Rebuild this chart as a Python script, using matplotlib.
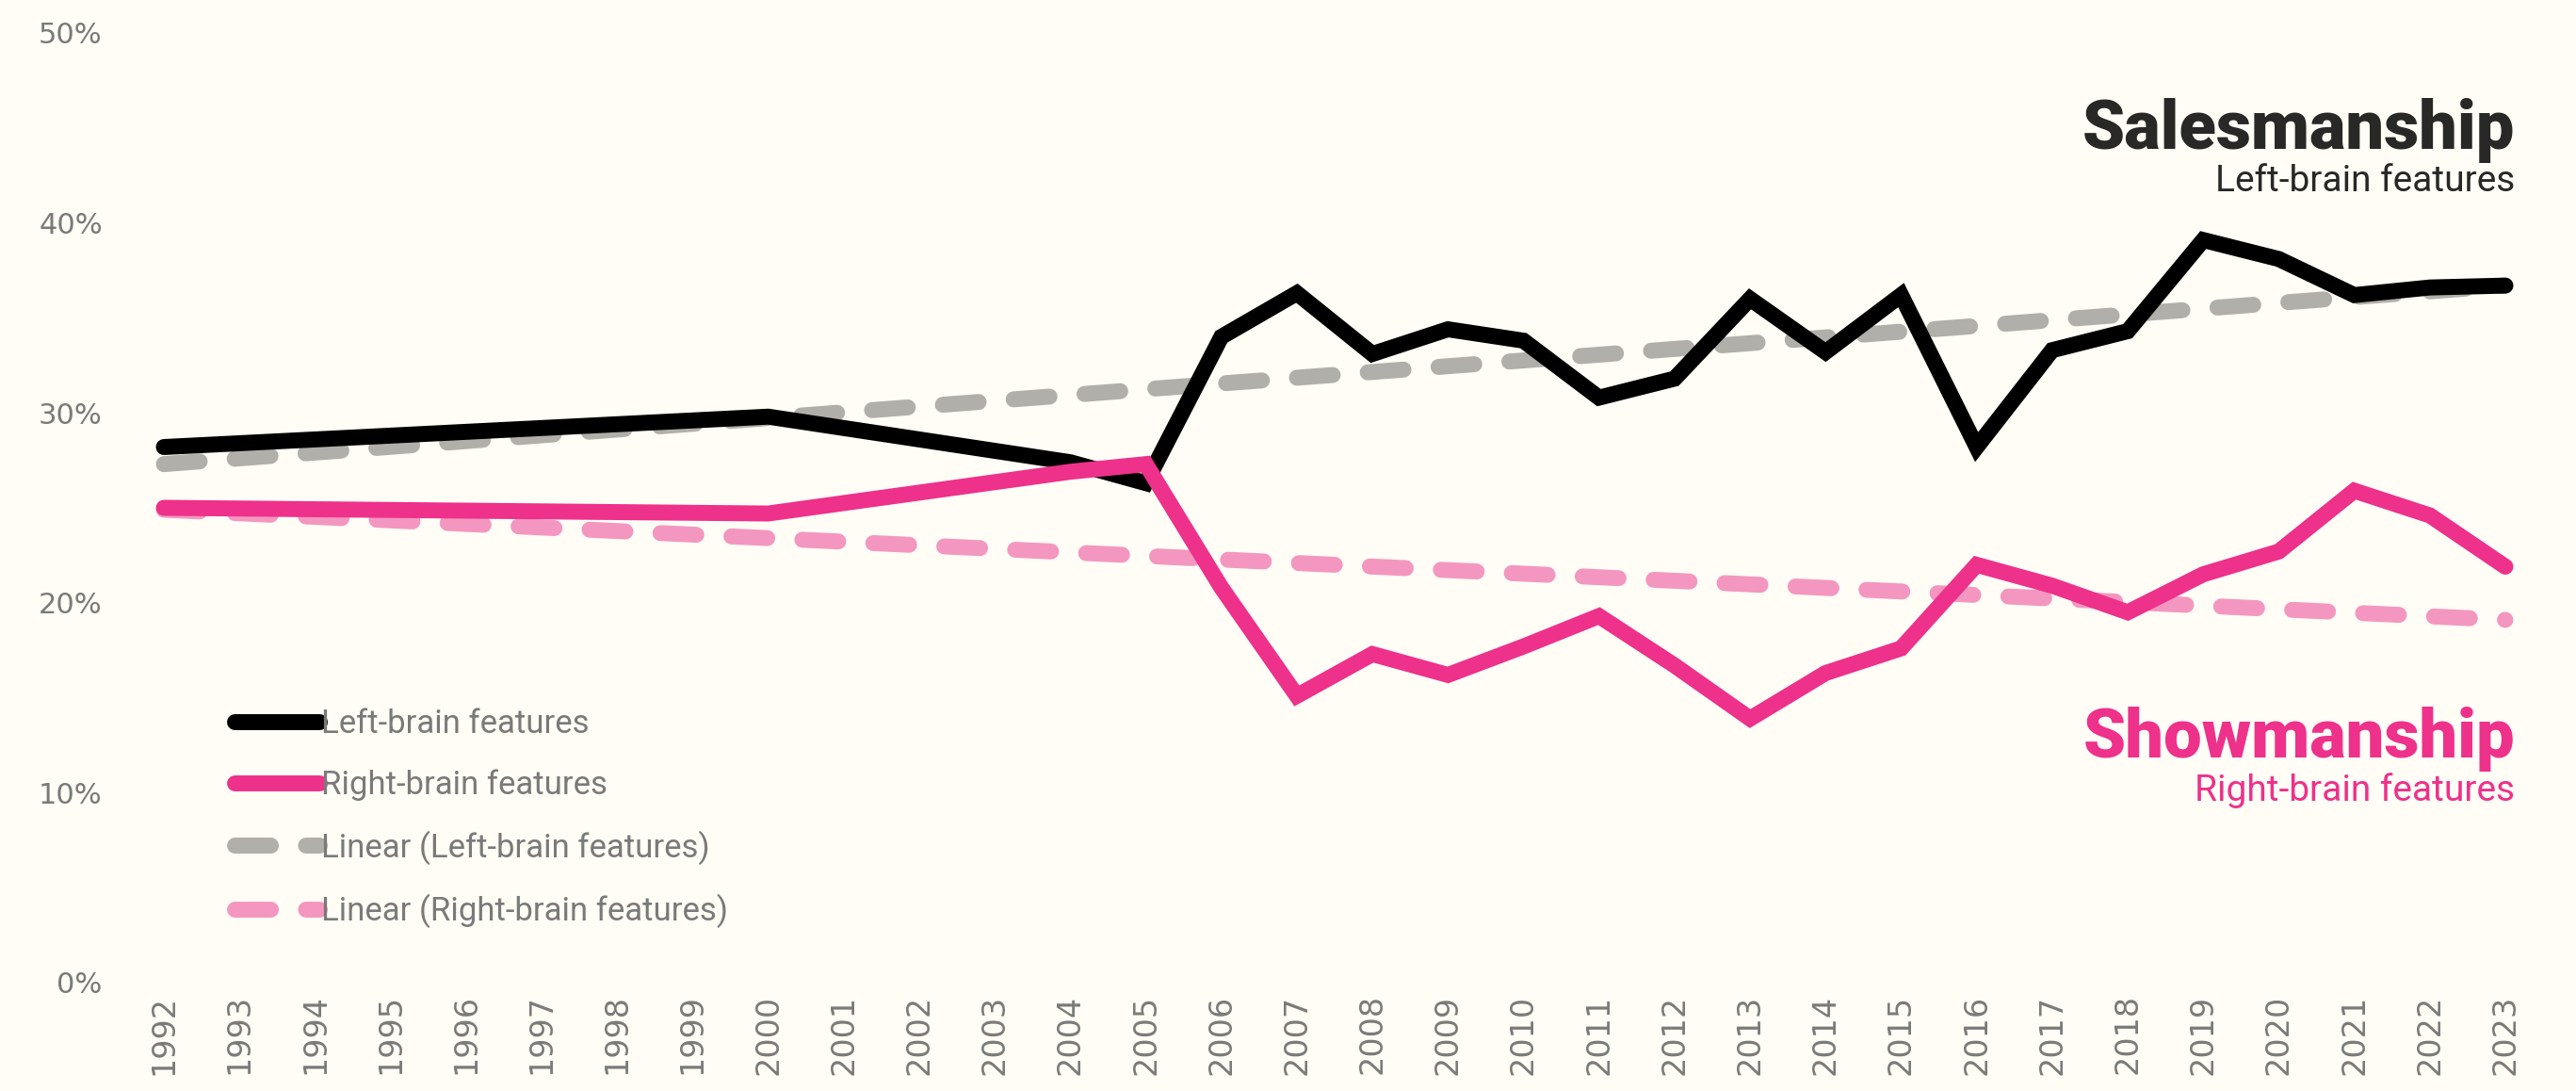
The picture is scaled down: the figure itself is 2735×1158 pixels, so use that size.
import matplotlib.pyplot as plt

plt.rcParams['font.family'] = ['Roboto', 'DejaVu Sans']

# Years with data (1993-1999 and 2001-2003 are not in the series)
years = [1992, 2000, 2004, 2005, 2006, 2007, 2008, 2009, 2010, 2011, 2012, 2013,
         2014, 2015, 2016, 2017, 2018, 2019, 2020, 2021, 2022, 2023]
left_brain = [28.2, 29.8, 27.4, 26.3, 34.0, 36.3, 33.1, 34.4, 33.8, 30.8, 31.8, 36.0,
              33.2, 36.2, 28.2, 33.3, 34.3, 39.1, 38.1, 36.2, 36.6, 36.7]
right_brain = [25.0, 24.7, 26.9, 27.3, 20.8, 15.1, 17.3, 16.2, 17.7, 19.3, 16.7, 13.9,
               16.3, 17.6, 22.0, 20.9, 19.5, 21.5, 22.7, 25.9, 24.6, 21.9]

# Linear trend lines, read at both ends
trend_years = [1992, 2023]
left_trend = [27.3, 36.7]
right_trend = [24.9, 19.1]

tick_years = list(range(1992, 2024))
y_ticks = [0, 10, 20, 30, 40, 50]

bg = '#FFFDF6'
black = '#000000'
pink = '#EE318A'
grey = '#B0AFAA'
light_pink = '#F497C0'
label_grey = '#7A7A78'

fig = plt.figure(figsize=(27.35, 11.58), dpi=100, facecolor=bg)
ax = fig.add_axes([174 / 2735, 1 - 1043 / 1158, (2660 - 174) / 2735, (1043 - 35) / 1158])
ax.set_facecolor(bg)

lw = 12.2
dash = (2.25, 2.2)
ax.plot(trend_years, left_trend, color=grey, lw=lw, dashes=dash,
        dash_capstyle='round', label='Linear (Left-brain features)',
        clip_on=False, zorder=2)
ax.plot(trend_years, right_trend, color=light_pink, lw=lw, dashes=dash,
        dash_capstyle='round', label='Linear (Right-brain features)', clip_on=False, zorder=2)
ax.plot(years, left_brain, color=black, lw=lw, solid_capstyle='round',
        solid_joinstyle='miter', label='Left-brain features', clip_on=False, zorder=3)
ax.plot(years, right_brain, color=pink, lw=lw, solid_capstyle='round',
        solid_joinstyle='miter', label='Right-brain features', clip_on=False, zorder=4)

ax.set_xlim(1992, 2023)
ax.set_ylim(0, 50)
ax.set_xticks(tick_years)
ax.set_xticklabels([str(y) for y in tick_years], rotation=90, fontsize=24,
                   color=label_grey, va='top', family='DejaVu Sans')
ax.set_yticks(y_ticks)
ax.set_yticklabels([f'{v}%' for v in y_ticks], fontsize=22, color=label_grey,
                   family='DejaVu Sans')
ax.tick_params(axis='x', length=0, pad=9)
ax.tick_params(axis='y', length=0, pad=47)
for s in ax.spines.values():
    s.set_visible(False)

handles, labels = ax.get_legend_handles_labels()
order = [2, 3, 0, 1]
leg = fig.legend([handles[i] for i in order], [labels[i] for i in order],
                 loc='upper left', bbox_to_anchor=(249 / 2735, 1 - 752 / 1158),
                 frameon=False, fontsize=25, handlelength=2.6, handletextpad=0.05,
                 labelspacing=0.9, borderpad=0, borderaxespad=0)
for t in leg.get_texts():
    t.set_color(label_grey)

fig.text(2670 / 2735, 1 - 158 / 1158, 'Salesmanship', ha='right', va='baseline',
         fontsize=52, fontweight='black', color='#282826')
fig.text(2670 / 2735, 1 - 203 / 1158, 'Left-brain features', ha='right', va='baseline',
         fontsize=28, color='#282826')
fig.text(2670 / 2735, 1 - 804 / 1158, 'Showmanship', ha='right', va='baseline',
         fontsize=52, fontweight='black', color=pink)
fig.text(2670 / 2735, 1 - 850 / 1158, 'Right-brain features', ha='right', va='baseline',
         fontsize=28, color=pink)

fig.savefig('out.png', dpi=100, facecolor=bg)
